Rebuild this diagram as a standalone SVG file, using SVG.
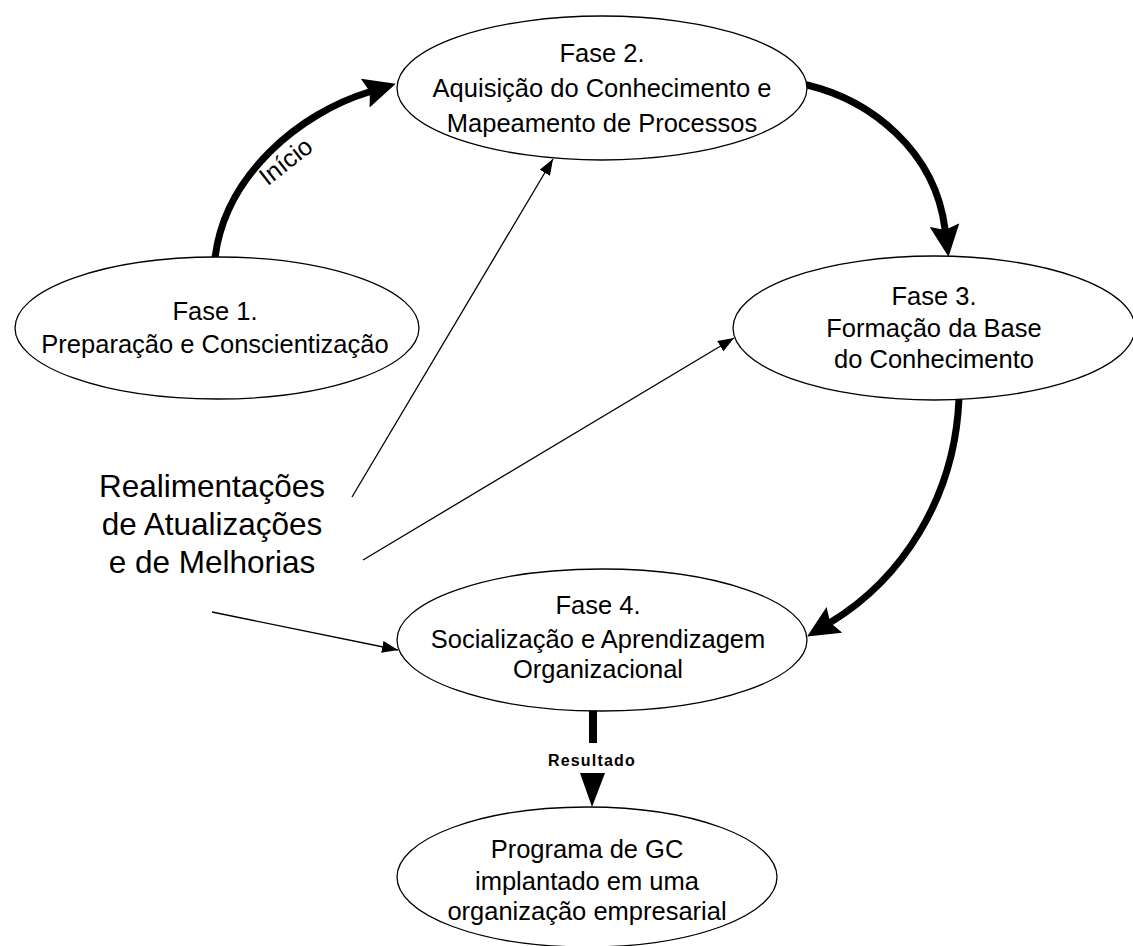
<svg xmlns="http://www.w3.org/2000/svg" width="1133" height="946" viewBox="0 0 1133 946">
<style>
.node ellipse{fill:#fff;stroke:#000;stroke-width:1.3}
.lbl{font-family:"Liberation Sans",Arial,sans-serif;font-size:25.5px;fill:#000;text-anchor:middle}
.big{font-family:"Liberation Sans",Arial,sans-serif;font-size:31.5px;fill:#000;text-anchor:middle}
.thick{fill:none;stroke:#000;stroke-width:7;stroke-linecap:round}
.thin{fill:none;stroke:#000;stroke-width:1.3}
</style>
<defs>
<marker id="headBig" markerUnits="userSpaceOnUse" markerWidth="34" markerHeight="30" refX="4" refY="15" orient="auto">
<path d="M0,0 L32,15 L0,30 L5,15 z" fill="#000"/>
</marker>
<marker id="headSmall" markerUnits="userSpaceOnUse" markerWidth="17" markerHeight="12" refX="16" refY="6" orient="auto">
<path d="M0,0 L16,6 L0,12 z" fill="#000"/>
</marker>
</defs>
<rect width="1133" height="946" fill="#fff"/>
<g id="connectors">
<path class="thick" d="M215,258 C225,175 300,113 369,92" marker-end="url(#headBig)"/>
<path class="thick" d="M807,85 C870,100 935,150 945,229" marker-end="url(#headBig)"/>
<path class="thick" d="M959,398 C955,500 900,580 831,622" marker-end="url(#headBig)"/>
<line class="thin" x1="352" y1="497" x2="553" y2="159" marker-end="url(#headSmall)"/>
<line class="thin" x1="363" y1="560" x2="734" y2="338" marker-end="url(#headSmall)"/>
<line class="thin" x1="212" y1="612" x2="398" y2="650" marker-end="url(#headSmall)"/>
<line x1="593" y1="709" x2="593" y2="743" stroke="#000" stroke-width="8"/>
<polygon points="580,773 605,773 592,807" fill="#000"/>
<text x="291" y="168" transform="rotate(-38 291 168)" font-family="Liberation Sans, Arial, sans-serif" font-size="25" text-anchor="middle">Início</text>
<text x="592" y="766" font-family="Liberation Sans, Arial, sans-serif" font-size="16" font-weight="bold" letter-spacing="1.2" text-anchor="middle">Resultado</text>
</g>
<g id="fase1" class="node">
<ellipse cx="217" cy="328" rx="202" ry="71"/>
<text class="lbl" x="215" y="320">Fase 1.</text>
<text class="lbl" x="215" y="353">Preparação e Conscientização</text>
</g>
<g id="fase2" class="node">
<ellipse cx="602" cy="88" rx="205" ry="72"/>
<text class="lbl" x="602" y="62">Fase 2.</text>
<text class="lbl" x="602" y="97">Aquisição do Conhecimento e</text>
<text class="lbl" x="602" y="132">Mapeamento de Processos</text>
</g>
<g id="fase3" class="node">
<ellipse cx="934" cy="328" rx="201" ry="72"/>
<text class="lbl" x="934" y="305">Fase 3.</text>
<text class="lbl" x="934" y="337">Formação da Base</text>
<text class="lbl" x="934" y="368">do Conhecimento</text>
</g>
<g id="fase4" class="node">
<ellipse cx="602" cy="640" rx="205" ry="71"/>
<text class="lbl" x="598" y="614">Fase 4.</text>
<text class="lbl" x="598" y="648">Socialização e Aprendizagem</text>
<text class="lbl" x="598" y="678">Organizacional</text>
</g>
<g id="programa" class="node">
<ellipse cx="587" cy="877" rx="190" ry="70"/>
<text class="lbl" x="587" y="858">Programa de GC</text>
<text class="lbl" x="587" y="890">implantado em uma</text>
<text class="lbl" x="587" y="920">organização empresarial</text>
</g>
<g id="realimentacoes">
<text class="big" x="212" y="497">Realimentações</text>
<text class="big" x="212" y="535">de Atualizações</text>
<text class="big" x="212" y="573">e de Melhorias</text>
</g>
</svg>
